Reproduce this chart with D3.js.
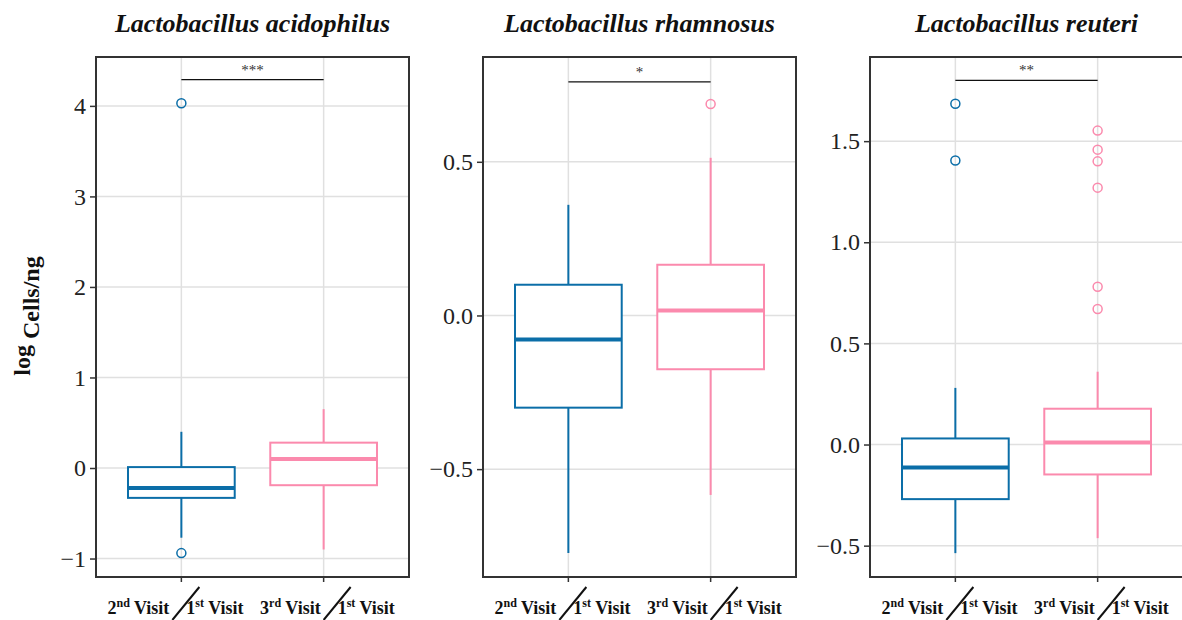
<!DOCTYPE html>
<html>
<head>
<meta charset="utf-8">
<script src="https://cdn.jsdelivr.net/npm/d3@7"></script>
<style>
body { margin: 0; background: #fff; }
text { font-family: "Liberation Serif", "Times New Roman", serif; }
</style>
</head>
<body>
<svg id="chart" width="1182" height="620"></svg>
<script>
// Species shown in the three panels
var titles = ["Lactobacillus acidophilus", "Lactobacillus rhamnosus", "Lactobacillus reuteri"];
// Comparisons on the x axis (visit number + ordinal suffix), both against the 1st visit
var comparisons = [["2", "nd"], ["3", "rd"]];

// Box stats per comparison: [lower whisker, Q1, median, Q3, upper whisker]
var acidophilusStats = [[-0.77, -0.33, -0.22, 0.01, 0.40], [-0.90, -0.19, 0.10, 0.28, 0.65]];
var rhamnosusStats = [[-0.773, -0.30, -0.078, 0.10, 0.36], [-0.584, -0.175, 0.016, 0.165, 0.513]];
var reuteriStats = [[-0.537, -0.27, -0.113, 0.03, 0.28], [-0.463, -0.148, 0.01, 0.177, 0.36]];

// Outliers per comparison
var acidophilusOutliers = [[4.03, -0.94], []];
var rhamnosusOutliers = [[], [0.688]];
var reuteriOutliers = [[1.685, 1.404], [1.552, 1.458, 1.40, 1.27, 0.78, 0.67]];

// Tick values
var acidophilusTicks = [-1, 0, 1, 2, 3, 4];
var rhamnosusTicks = [-0.5, 0, 0.5];
var reuteriTicks = [-0.5, 0, 0.5, 1, 1.5];

var yDomains = [[-1.204, 4.54], [-0.851, 0.841], [-0.655, 1.916]];
var significance = ["***", "*", "**"];
var sigLevels = [4.29, 0.76, 1.80];

var allStats = [acidophilusStats, rhamnosusStats, reuteriStats];
var allOutliers = [acidophilusOutliers, rhamnosusOutliers, reuteriOutliers];
var allTicks = [acidophilusTicks, rhamnosusTicks, reuteriTicks];
var tickFormats = [d3.format("d"), d3.format(".1f"), d3.format(".1f")];

var colors = ["#0b6ea8", "#fb8aad"];
var panelLefts = [96, 483, 870];
var panelWidth = 313, panelTop = 57, panelBottom = 577;
// the two x labels sit a little off their ticks in the original
var labelShift = [-4, 5];

var svg = d3.select("#chart");
svg.append("rect").attr("width", 1182).attr("height", 620).attr("fill", "#fff");

for (var i = 0; i < titles.length; i++)
{
    draw_Panel(i);
}

function draw_Panel(i)
{
    var stats = allStats[i];
    var outliers = allOutliers[i];
    var h = panelBottom - panelTop;

    var x = d3.scalePoint()
        .domain([0, 1])
        .range([0, panelWidth])
        .padding(0.6);
    var boxWidth = x.step() * 0.75;

    var y = d3.scaleLinear()
        .domain(yDomains[i])
        .range([h, 0]);

    var g = svg.append("g")
        .attr("transform", "translate(" + panelLefts[i] + "," + panelTop + ")");

    // title
    svg.append("text")
        .attr("x", panelLefts[i] + panelWidth / 2)
        .attr("y", 32)
        .attr("text-anchor", "middle")
        .style("font-size", "26px")
        .style("font-weight", "bold")
        .style("font-style", "italic")
        .style("fill", "#111")
        .text(titles[i]);

    // grid
    g.selectAll(".hgrid")
        .data(allTicks[i])
        .enter().append("line")
        .attr("x1", 0).attr("x2", panelWidth)
        .attr("y1", d => y(d)).attr("y2", d => y(d))
        .attr("stroke", "#e0e0e0")
        .attr("stroke-width", 1.5);
    g.selectAll(".vgrid")
        .data([0, 1])
        .enter().append("line")
        .attr("x1", d => x(d)).attr("x2", d => x(d))
        .attr("y1", 0).attr("y2", h)
        .attr("stroke", "#e0e0e0")
        .attr("stroke-width", 1.5);

    // significance bar
    g.append("line")
        .attr("x1", x(0)).attr("x2", x(1))
        .attr("y1", y(sigLevels[i])).attr("y2", y(sigLevels[i]))
        .attr("stroke", "#111")
        .attr("stroke-width", 1.2);
    g.append("text")
        .attr("x", (x(0) + x(1)) / 2)
        .attr("y", y(sigLevels[i]) - 5)
        .attr("text-anchor", "middle")
        .style("font-size", "15px")
        .style("fill", "#333")
        .text(significance[i]);

    // boxes
    var boxes = g.selectAll(".box")
        .data(stats)
        .enter().append("g");

    boxes.append("line")
        .attr("x1", (d, j) => x(j)).attr("x2", (d, j) => x(j))
        .attr("y1", d => y(d[0])).attr("y2", d => y(d[1]))
        .attr("stroke", (d, j) => colors[j])
        .attr("stroke-width", 2);
    boxes.append("line")
        .attr("x1", (d, j) => x(j)).attr("x2", (d, j) => x(j))
        .attr("y1", d => y(d[3])).attr("y2", d => y(d[4]))
        .attr("stroke", (d, j) => colors[j])
        .attr("stroke-width", 2);
    boxes.append("rect")
        .attr("x", (d, j) => x(j) - boxWidth / 2)
        .attr("width", boxWidth)
        .attr("y", d => y(d[3]))
        .attr("height", d => y(d[1]) - y(d[3]))
        .attr("fill", "#fff")
        .attr("stroke", (d, j) => colors[j])
        .attr("stroke-width", 2);
    boxes.append("line")
        .attr("x1", (d, j) => x(j) - boxWidth / 2)
        .attr("x2", (d, j) => x(j) + boxWidth / 2)
        .attr("y1", d => y(d[2])).attr("y2", d => y(d[2]))
        .attr("stroke", (d, j) => colors[j])
        .attr("stroke-width", 4);

    // outliers
    outliers.forEach(function(list, j)
    {
        g.selectAll(".out" + j)
            .data(list)
            .enter().append("circle")
            .attr("cx", x(j))
            .attr("cy", d => y(d))
            .attr("r", 4.5)
            .attr("fill", "none")
            .attr("stroke", colors[j])
            .attr("stroke-width", 1.5);
    });

    // panel border
    g.append("rect")
        .attr("width", panelWidth)
        .attr("height", h)
        .attr("fill", "none")
        .attr("stroke", "#333")
        .attr("stroke-width", 2);

    // y axis
    var yAxis = g.append("g")
        .call(d3.axisLeft(y).tickValues(allTicks[i]).tickFormat(tickFormats[i]).tickSize(6).tickPadding(4));
    yAxis.select(".domain").remove();
    yAxis.selectAll(".tick line").attr("stroke", "#333").attr("stroke-width", 1.5);
    yAxis.selectAll(".tick text")
        .style("font-family", "'Liberation Serif', 'Times New Roman', serif")
        .style("font-size", "24px")
        .style("fill", "#222");

    // x axis ticks
    g.selectAll(".xtick")
        .data([0, 1])
        .enter().append("line")
        .attr("x1", d => x(d)).attr("x2", d => x(d))
        .attr("y1", h).attr("y2", h + 5)
        .attr("stroke", "#333")
        .attr("stroke-width", 1.5);

    // x labels: "2nd Visit / 1st Visit"
    comparisons.forEach(function(c, j)
    {
        var lab = g.append("g")
            .attr("transform", "translate(" + (x(j) + labelShift[j]) + "," + (h + 37) + ")")
            .style("font-size", "18px")
            .style("font-weight", "bold")
            .style("fill", "#111");
        var left = lab.append("text").attr("x", -8).attr("text-anchor", "end");
        left.append("tspan").text(c[0]);
        left.append("tspan").attr("dy", -7).style("font-size", "12px").text(c[1]);
        left.append("tspan").attr("dy", 7).text(" Visit");
        lab.append("line")
            .attr("x1", -5).attr("y1", 6)
            .attr("x2", 22).attr("y2", -27)
            .attr("stroke", "#111")
            .attr("stroke-width", 2);
        var right = lab.append("text").attr("x", 9);
        right.append("tspan").text("1");
        right.append("tspan").attr("dy", -7).style("font-size", "12px").text("st");
        right.append("tspan").attr("dy", 7).text(" Visit");
    });
}

// y axis title: log with subscript Cells/ng
var yTitle = svg.append("text")
    .attr("transform", "translate(30,316) rotate(-90)")
    .attr("text-anchor", "middle")
    .style("font-size", "24px")
    .style("font-weight", "bold")
    .style("fill", "#111");
yTitle.append("tspan").text("log ");
yTitle.append("tspan").attr("dy", 9).text("Cells/ng");
</script>
</body>
</html>
